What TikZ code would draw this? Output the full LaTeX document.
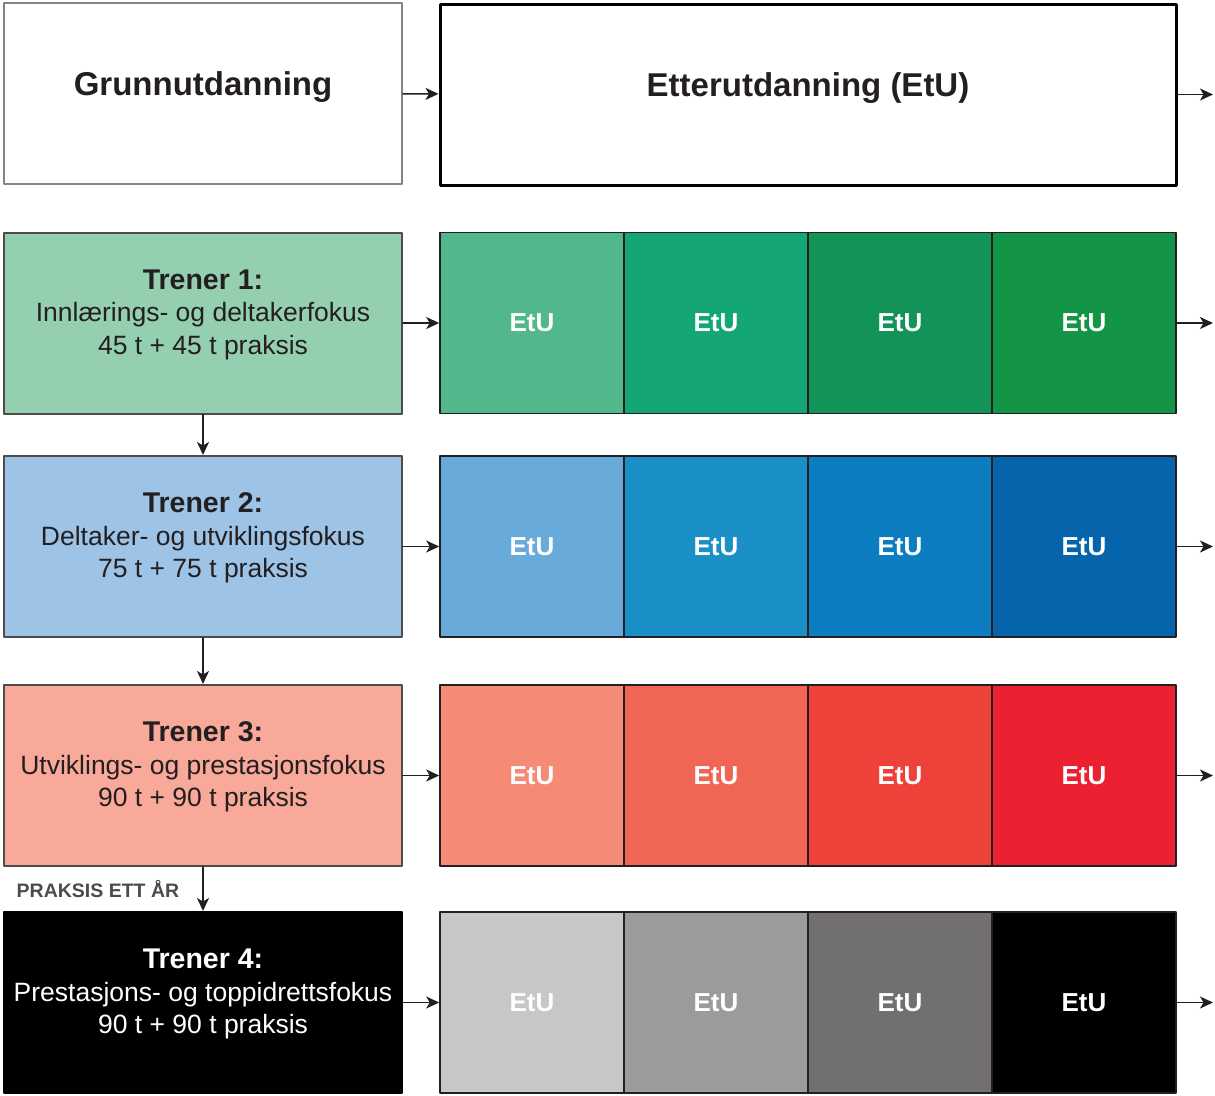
\documentclass[tikz,border=0pt]{standalone}
\usepackage{fontspec}
\setmainfont{Liberation Sans}
\usetikzlibrary{arrows.meta, positioning}
\definecolor{ink}{HTML}{231F20}
\definecolor{frame}{HTML}{4D4B4C}
\definecolor{grey}{HTML}{858384}
% left boxes
\definecolor{gbase}{HTML}{94CFB0}
\definecolor{bbase}{HTML}{9DC3E6}
\definecolor{rbase}{HTML}{F8A999}
% EtU cells
\definecolor{ga}{HTML}{52B88B}\definecolor{gb}{HTML}{14A775}
\definecolor{gc}{HTML}{129459}\definecolor{gd}{HTML}{139447}
\definecolor{ba}{HTML}{68AAD9}\definecolor{bb}{HTML}{1A90C7}
\definecolor{bc}{HTML}{0C7DC0}\definecolor{bd}{HTML}{0564AC}
\definecolor{ra}{HTML}{F58B77}\definecolor{rb}{HTML}{F06554}
\definecolor{rc}{HTML}{EE4139}\definecolor{rd}{HTML}{EB2030}
\definecolor{ka}{HTML}{C8C7C8}\definecolor{kb}{HTML}{9C9B9C}
\definecolor{kc}{HTML}{716F70}\definecolor{kd}{HTML}{000000}
\tikzset{el/.style={line cap=round, line join=round}}
\newcommand{\ttl}[1]{{\fontsize{28.5}{32.5}\selectfont\bfseries #1}}

\begin{document}
\begin{tikzpicture}[x=1pt, y=-1pt, el,
     lbox/.style={draw=frame, line width=2pt, minimum width=398pt,
        minimum height=181pt, inner sep=0pt, align=center, text=ink,
        text depth=22pt, font=\fontsize{26.5}{32.5}\selectfont},
     head/.style={lbox, draw=grey, text depth=19pt,
        font=\fontsize{33}{38}\selectfont\bfseries},
     cell/.style={draw=ink, line width=1.6pt, minimum width=184pt,
        minimum height=181pt, inner sep=0pt, text=white,
        font=\fontsize{26}{30}\selectfont\bfseries},
     ar/.style={-{Stealth[length=13pt, width=12pt, inset=3.5pt]}, ink, line width=1.6pt}]
     \useasboundingbox (0,0) rectangle (1215,1095);
     % top row
     \node[head] (grunn) at (203,93.5) {Grunnutdanning};
     \node[head, draw=black, line width=3pt, minimum width=736pt] (etter) at (808,94.5) {Etterutdanning (EtU)};
     \coordinate (out0) at (1213,94.5);
     % trainer levels
     \node[lbox, fill=gbase] (t1) at (203,323) {\ttl{Trener 1:}\\Innlærings- og deltakerfokus\\45 t + 45 t praksis};
     \node[lbox, fill=bbase] (t2) at (203,546.5) {\ttl{Trener 2:}\\Deltaker- og utviklingsfokus\\75 t + 75 t praksis};
     \node[lbox, fill=rbase] (t3) at (203,775.5) {\ttl{Trener 3:}\\Utviklings- og prestasjonsfokus\\90 t + 90 t praksis};
     \node[lbox, fill=black, draw=black, text=white] (t4) at (203,1002.5) {\ttl{Trener 4:}\\Prestasjons- og toppidrettsfokus\\90 t + 90 t praksis};
     % EtU cells
     \foreach \r/\y/\p in {1/323/g, 2/546.5/b, 3/775.5/r, 4/1002.5/k}{
       \foreach \s [count=\i] in {a,b,c,d}
         \node[cell, fill=\p\s] (e\r\i) at (440+184*\i-92,\y) {EtU};
       \coordinate (out\r) at (1213,\y);
       \draw[ar] (t\r) -- (e\r1);
       \draw[ar] (e\r4) -- (out\r);
     }
     \draw[ar] (grunn) -- (etter);
     \draw[ar] (etter) -- (out0);
     \draw[ar] (t1) -- (t2);
     \draw[ar] (t2) -- (t3);
     \draw[ar] (t3) -- (t4) node[midway, left=23pt, inner sep=0pt, text=frame,
        font=\fontsize{19.5}{22}\selectfont\bfseries] {PRAKSIS ETT ÅR};
  \end{tikzpicture}
\end{document}
